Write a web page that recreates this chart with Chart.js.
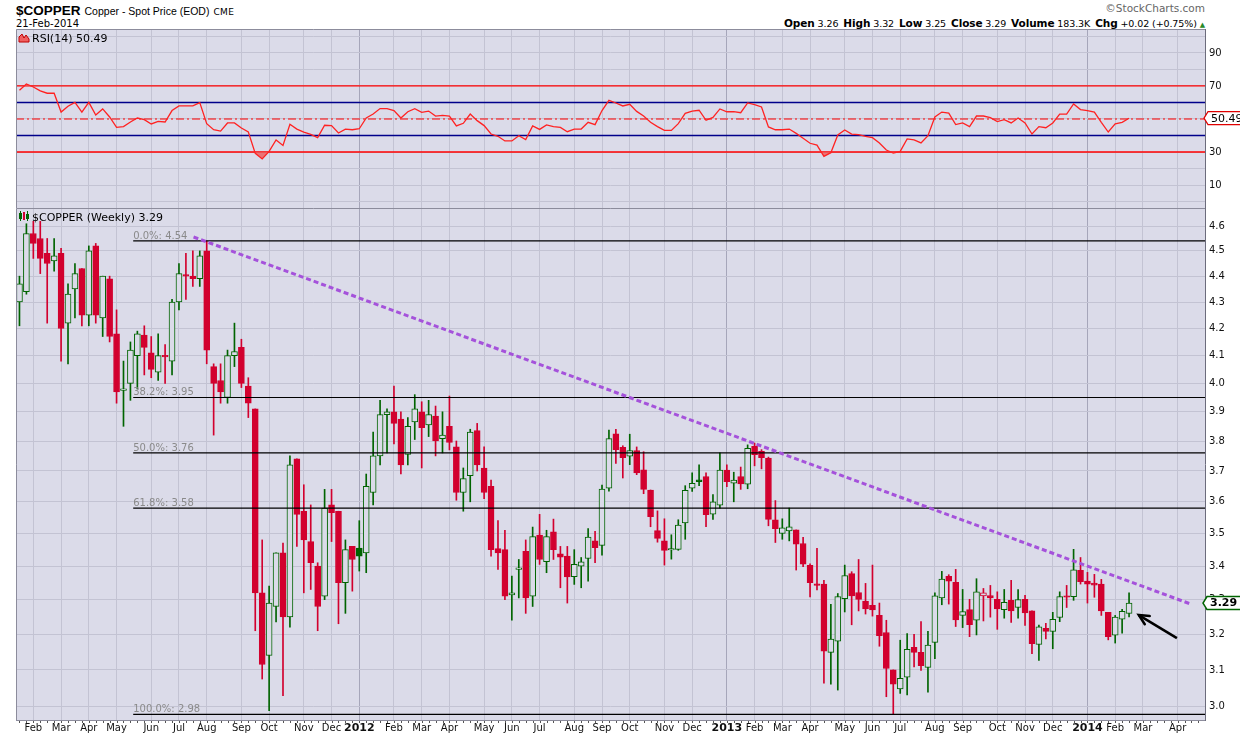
<!DOCTYPE html>
<html><head><meta charset="utf-8">
<script src="https://cdn.jsdelivr.net/npm/chart.js@4.4.1/dist/chart.umd.min.js"></script>
<style>
html,body{margin:0;padding:0;background:#fff;width:1240px;height:737px;overflow:hidden;}
#rsiWrap{position:absolute;left:0;top:0;width:1240px;height:212px;}
#priceWrap{position:absolute;left:0;top:200px;width:1240px;height:537px;}
.t{position:absolute;white-space:nowrap;color:#000;}
.hd b{font-size:10.5px;margin-left:5px;}
</style></head><body>
<div class="t" style="left:16px;top:2px;line-height:16px;">
<span style="font:bold 13.5px 'Liberation Sans',sans-serif;">$COPPER</span>
<span style="font:10.5px 'Liberation Sans',sans-serif;">Copper - Spot Price (EOD)</span>
<span style="font:9px 'DejaVu Sans',sans-serif;letter-spacing:0.4px;">CME</span></div>
<div class="t" style="left:16px;top:17px;font:10px 'DejaVu Sans',sans-serif;line-height:13px;">21-Feb-2014</div>
<div class="t" style="right:35px;top:2px;font:10.5px 'DejaVu Sans',sans-serif;color:#666;line-height:13px;">&copy;StockCharts.com</div>
<div class="t hd" style="right:35px;top:17px;font:9.5px 'DejaVu Sans',sans-serif;line-height:13px;letter-spacing:-0.1px;">
<b>Open</b> 3.26<b>High</b> 3.32<b>Low</b> 3.25<b>Close</b> 3.29<b>Volume</b> 183.3K<b>Chg</b> +0.02 (+0.75%) <span style="color:#2a8a2a;font-size:7px">&#9650;</span></div>
<div id="rsiWrap"><canvas id="rsi" width="1240" height="212"></canvas></div>
<div id="priceWrap"><canvas id="price" width="1240" height="537"></canvas></div>
<script>
// ---------------- data (weekly bars, index 0 = week of 24-Jan-2011) ----------------
const openP = [4.30,4.34,4.57,4.55,4.49,4.46,4.49,4.22,4.35,4.43,4.25,4.52,4.24,4.39,4.18,3.975,4.00,4.10,4.175,4.11,
4.04,4.10,4.08,4.30,4.405,4.40,4.39,4.50,4.06,4.01,3.95,4.10,4.13,3.99,3.91,3.32,3.14,3.28,3.44,3.25,
3.74,3.57,3.475,3.40,3.31,3.59,3.57,3.35,3.46,3.455,3.44,3.63,3.75,3.89,3.90,3.875,3.755,3.865,3.90,3.855,
3.885,3.808,3.85,3.78,3.63,3.685,3.835,3.71,3.65,3.453,3.45,3.314,3.39,3.445,3.31,3.495,3.413,3.505,3.437,3.43,
3.368,3.40,3.423,3.477,3.463,3.644,3.824,3.779,3.749,3.768,3.704,3.638,3.509,3.477,3.449,3.451,3.533,3.644,3.671,3.682,
3.561,3.589,3.703,3.66,3.682,3.657,3.782,3.765,3.743,3.543,3.50,3.508,3.511,3.469,3.402,3.346,3.346,3.149,3.18,3.303,
3.377,3.321,3.295,3.283,3.254,3.205,3.10,3.048,3.08,3.163,3.149,3.107,3.177,3.305,3.369,3.351,3.254,3.271,3.24,3.311,
3.312,3.301,3.271,3.298,3.277,3.301,3.267,3.171,3.217,3.208,3.248,3.311,3.309,3.387,3.355,3.349,3.346,3.263,3.197,3.243,
3.26];
const highP = [4.40,4.61,4.62,4.62,4.55,4.55,4.51,4.37,4.45,4.43,4.52,4.53,4.40,4.40,4.27,4.08,4.15,4.19,4.21,4.17,
4.18,4.14,4.31,4.45,4.49,4.50,4.50,4.54,4.07,4.07,4.12,4.22,4.16,4.02,3.91,3.48,3.34,3.44,3.47,3.75,
3.74,3.655,3.59,3.41,3.64,3.64,3.57,3.48,3.46,3.54,3.69,3.83,3.94,3.91,3.99,3.90,3.88,3.96,3.935,3.94,
3.92,3.90,3.955,3.80,3.71,3.84,3.86,3.78,3.67,3.54,3.51,3.37,3.42,3.48,3.52,3.56,3.51,3.545,3.46,3.46,
3.45,3.426,3.515,3.507,3.654,3.837,3.84,3.784,3.823,3.78,3.764,3.638,3.571,3.546,3.496,3.543,3.652,3.694,3.72,3.694,
3.623,3.76,3.72,3.696,3.713,3.787,3.793,3.771,3.746,3.604,3.546,3.58,3.511,3.488,3.407,3.454,3.357,3.286,3.318,3.403,
3.383,3.42,3.348,3.403,3.29,3.24,3.10,3.183,3.202,3.20,3.236,3.208,3.32,3.384,3.374,3.39,3.33,3.301,3.362,3.333,
3.342,3.323,3.33,3.357,3.33,3.313,3.267,3.226,3.231,3.263,3.323,3.342,3.451,3.426,3.381,3.375,3.36,3.263,3.254,3.272,
3.32];
const lowP = [4.21,4.33,4.47,4.41,4.22,4.42,4.08,4.07,4.24,4.21,4.21,4.22,4.17,4.15,3.93,3.85,3.94,3.98,4.03,4.02,
4.01,4.00,4.03,4.27,4.31,4.36,4.36,4.07,3.82,3.93,3.93,4.06,3.985,3.88,3.21,3.075,2.99,3.235,3.03,3.22,
3.46,3.32,3.33,3.21,3.30,3.475,3.23,3.26,3.325,3.385,3.38,3.59,3.72,3.76,3.79,3.69,3.72,3.805,3.71,3.815,
3.75,3.76,3.77,3.605,3.57,3.60,3.70,3.61,3.43,3.39,3.30,3.24,3.305,3.26,3.28,3.405,3.38,3.42,3.335,3.29,
3.345,3.335,3.355,3.41,3.433,3.634,3.725,3.677,3.721,3.688,3.626,3.521,3.473,3.403,3.421,3.448,3.482,3.633,3.652,3.521,
3.544,3.58,3.649,3.60,3.64,3.642,3.717,3.707,3.524,3.472,3.482,3.477,3.388,3.398,3.308,3.329,3.064,3.061,3.045,3.264,
3.227,3.267,3.258,3.252,3.166,3.027,2.98,3.036,3.032,3.108,3.099,3.039,3.131,3.285,3.287,3.222,3.219,3.193,3.198,3.238,
3.249,3.214,3.246,3.234,3.246,3.225,3.145,3.126,3.187,3.159,3.236,3.277,3.298,3.346,3.29,3.307,3.254,3.184,3.175,3.203,
3.25];
const closeP = [4.37,4.57,4.53,4.47,4.45,4.48,4.20,4.33,4.41,4.25,4.50,4.25,4.40,4.17,3.97,3.98,4.12,4.18,4.13,4.05,
4.10,4.095,4.30,4.41,4.40,4.39,4.48,4.12,4.00,3.97,4.10,4.115,4.00,3.93,3.32,3.115,3.29,3.44,3.25,3.72,
3.56,3.48,3.41,3.28,3.58,3.565,3.35,3.45,3.42,3.43,3.65,3.75,3.89,3.90,3.86,3.72,3.85,3.91,3.845,3.89,
3.80,3.82,3.795,3.63,3.675,3.83,3.72,3.63,3.45,3.44,3.31,3.32,3.395,3.305,3.49,3.42,3.49,3.45,3.427,3.367,
3.405,3.413,3.489,3.456,3.641,3.808,3.771,3.744,3.768,3.694,3.64,3.553,3.485,3.448,3.451,3.526,3.637,3.66,3.665,3.559,
3.60,3.703,3.665,3.67,3.658,3.775,3.754,3.744,3.544,3.515,3.518,3.521,3.467,3.406,3.35,3.342,3.152,3.186,3.309,3.371,
3.311,3.301,3.273,3.27,3.196,3.104,3.061,3.077,3.157,3.149,3.112,3.169,3.311,3.361,3.355,3.241,3.265,3.227,3.323,3.32,
3.305,3.273,3.292,3.267,3.30,3.261,3.173,3.221,3.208,3.243,3.309,3.307,3.389,3.353,3.346,3.343,3.267,3.193,3.249,3.266,
3.29];
const rsi14 = [67.4,71.2,69.4,67.0,65.6,65.6,54.2,57.7,60.1,54.2,60.1,52.4,56.1,51.2,44.9,45.4,48.2,50.6,49.6,47.0,
48.6,48.2,55.1,57.9,57.9,57.9,59.9,47.2,43.5,42.7,47.6,47.6,44.5,42.1,29.2,25.8,30.4,37.3,34.0,46.8,
43.9,42.1,40.7,38.7,46.2,46.0,41.5,43.9,43.5,44.1,50.6,53.0,56.3,56.3,55.1,50.6,54.4,56.2,54.0,54.8,
51.8,52.2,51.8,45.8,47.4,53.0,49.0,46.0,40.9,39.5,36.7,36.7,39.9,37.5,45.8,43.7,46.4,45.4,44.9,42.3,
43.9,43.9,48.0,46.6,55.1,61.3,59.7,57.9,58.9,54.6,51.8,48.0,45.4,43.1,43.1,47.2,53.4,54.8,55.3,49.2,
51.0,56.1,54.4,54.4,53.8,59.7,58.7,57.3,45.2,43.5,43.5,43.9,41.3,38.3,35.3,34.2,27.4,29.6,40.3,43.3,
40.9,40.5,39.5,38.7,35.5,31.2,29.4,30.4,37.9,37.3,35.5,39.9,51.2,54.2,53.6,46.6,47.6,45.4,51.8,51.8,
50.8,48.4,49.6,47.6,50.6,47.6,40.9,45.4,44.7,47.6,53.0,53.0,59.1,55.7,55.1,54.2,48.0,42.1,47.0,48.0,
50.49];

// x-axis: month tick positions (week index) and labels
const monthTickIdx = [2,6,10,14,19,23,27,32,36,41,45,49,54,58,62,67,71,75,80,84,88,93,97,102,106,110,114,119,123,127,132,136,141,145,149,154,158,162,167];
const monthTickLabels = ['Feb','Mar','Apr','May','Jun','Jul','Aug','Sep','Oct','Nov','Dec','2012','Feb','Mar','Apr','May','Jun','Jul','Aug','Sep','Oct','Nov','Dec','2013','Feb','Mar','Apr','May','Jun','Jul','Aug','Sep','Oct','Nov','Dec','2014','Feb','Mar','Apr'];
const yearTickIdx = [49,102,154];
const lastAxisWeek = 170;
const priceTicks = [3.0,3.1,3.2,3.3,3.4,3.5,3.6,3.7,3.8,3.9,4.0,4.1,4.2,4.3,4.4,4.5,4.6];
const rsiGridTicks = [0,10,20,30,40,50,60,70,80,90,100];
const rsiLabelTicks = [10,30,70,90];
// annotations
const fibLevels = [4.54,3.95,3.76,3.58,2.98];
const fibNames = ['0.0%','38.2%','50.0%','61.8%','100.0%'];
const fibStartWeek = 16.4;
const trendWeeks = [25.1,168.9];
const trendPrices = [4.556,3.287];
const arrowWeeks = [166.9,161.4];
const arrowPrices = [3.189,3.255];
const rsiRedLevels = [70,30];
const rsiBlueLevels = [60,40];
const rsiMidLevel = 50;

// ---------------- styling ----------------
const X_MIN = -0.5, X_MAX = 170.95;
const UP = '#006400', DN = '#D2002E', BG = '#DBDBE9', GRID = '#C3C3D3', GRIDY = '#A6A6BA';
const FONT = "'DejaVu Sans', sans-serif";
const last = closeP.length - 1;
const colorAt = i => (i === 0 || closeP[i] >= closeP[i-1]) ? UP : DN;
const hollowAt = i => closeP[i] >= openP[i];

function xAxis(show){
  return {
    type:'linear', min:X_MIN, max:X_MAX, offset:false, bounds:'data',
    afterBuildTicks: s => { s.ticks = monthTickIdx.map(v => ({value:v})); },
    afterFit: s => { s.height = show ? 17 : 0; s.paddingLeft = 0; s.paddingRight = 0; },
    grid:{ color: c => (c.tick && yearTickIdx.includes(c.tick.value)) ? GRIDY : GRID, lineWidth:1, drawTicks:false, offset:false },
    border:{ display:true, color:'#8c8c9c' },
    ticks:{ display:show, autoSkip:false, maxRotation:0, minRotation:0, padding:2, color:'#111',
      font: c => ({family:FONT, size: (c.tick && yearTickIdx.includes(c.tick.value)) ? 11 : 10,
                   weight: (c.tick && yearTickIdx.includes(c.tick.value)) ? 'bold' : 'normal'}),
      callback: (v, i) => monthTickLabels[i] }
  };
}

const bgPlugin = { id:'bgp', beforeDraw(ch){ const {ctx, chartArea:a} = ch; ctx.save(); ctx.fillStyle = BG;
  ctx.fillRect(a.left, a.top, a.right - a.left, a.bottom - a.top); ctx.restore(); } };
const framePlugin = { id:'frame', afterDraw(ch){ const {ctx, chartArea:a} = ch; ctx.save(); ctx.strokeStyle = '#8c8c9c'; ctx.lineWidth = 1;
  ctx.beginPath(); ctx.moveTo(a.left + 0.5, a.bottom); ctx.lineTo(a.left + 0.5, a.top + 0.5); ctx.lineTo(a.right, a.top + 0.5); ctx.stroke(); ctx.restore(); } };

function badge(ctx, x, y, text, color, bold, lw){
  ctx.save();
  ctx.font = (bold ? 'bold ' : '') + '11px ' + FONT;
  const w = ctx.measureText(text).width + 5, h = 13;
  ctx.beginPath();
  ctx.moveTo(x, y); ctx.lineTo(x + 4, y - h/2); ctx.lineTo(x + 6 + w, y - h/2); ctx.lineTo(x + 6 + w, y + h/2); ctx.lineTo(x + 4, y + h/2); ctx.closePath();
  ctx.fillStyle = '#fff'; ctx.fill(); ctx.strokeStyle = color; ctx.lineWidth = lw; ctx.stroke();
  ctx.fillStyle = '#000'; ctx.textBaseline = 'middle'; ctx.fillText(text, x + 7, y + 0.5);
  ctx.restore();
}

// ---------------- RSI panel ----------------
const lvl = (v) => [{x:X_MIN, y:v}, {x:X_MAX, y:v}];
const rsiPts = rsi14.map((v, i) => ({x:i, y:v}));
const rsiDatasets = [
  { data: rsiPts, borderColor:'#FF2222', borderWidth:1.3, pointRadius:0, tension:0, order:0,
    fill:{ target:{value:30}, above:'rgba(0,0,0,0)', below:'rgba(236,90,90,0.8)' } },
  { data: rsiPts, borderWidth:0, borderColor:'rgba(0,0,0,0)', pointRadius:0, order:1,
    fill:{ target:{value:70}, above:'rgba(236,90,90,0.8)', below:'rgba(0,0,0,0)' } },
  ...rsiRedLevels.map(v => ({ data: lvl(v), borderColor:'#FF0000', borderWidth:1.3, pointRadius:0, order:2 })),
  ...rsiBlueLevels.map(v => ({ data: lvl(v), borderColor:'#00008B', borderWidth:1.3, pointRadius:0, order:2 })),
  { data: lvl(rsiMidLevel), borderColor:'#FF0000', borderWidth:1.2, borderDash:[8,3,2,3], pointRadius:0, order:2 }
];
const rsiText = { id:'rsiText', afterDraw(ch){
  const {ctx, chartArea:a, scales} = ch;
  ctx.save();
  const ix = a.left + 3, iy = a.top + 13;
  ctx.beginPath(); ctx.moveTo(ix, iy); ctx.lineTo(ix, iy - 5); ctx.lineTo(ix + 3, iy - 8); ctx.lineTo(ix + 5, iy - 4);
  ctx.lineTo(ix + 7, iy - 7); ctx.lineTo(ix + 10, iy - 3); ctx.lineTo(ix + 10, iy); ctx.closePath();
  ctx.fillStyle = '#F06060'; ctx.fill(); ctx.strokeStyle = '#C00000'; ctx.lineWidth = 1; ctx.stroke();
  ctx.fillStyle = '#000'; ctx.font = '11px ' + FONT; ctx.textBaseline = 'alphabetic';
  ctx.fillText('RSI(14) ' + rsi14[last].toFixed(2), a.left + 16, a.top + 13);
  ctx.restore();
  badge(ctx, a.right - 1, scales.y.getPixelForValue(rsi14[last]), rsi14[last].toFixed(2), '#E00000', false, 1.2);
} };
new Chart(document.getElementById('rsi'), {
  type:'line',
  data:{ datasets: rsiDatasets },
  options:{
    responsive:false, animation:false, events:[],
    layout:{ padding:{ left:16, top:29, right:0, bottom:4 } },
    plugins:{ legend:{display:false}, tooltip:{enabled:false} },
    scales:{
      x: xAxis(false),
      y: { type:'linear', position:'right', min:-3.9, max:104.5, bounds:'data',
        afterBuildTicks: s => { s.ticks = rsiGridTicks.map(v => ({value:v})); },
        afterFit: s => { s.width = 35; s.paddingTop = 0; s.paddingBottom = 0; },
        grid:{ color: GRID, drawTicks:false },
        border:{ display:true, color:'#6c6c7c' },
        ticks:{ padding:4, color:'#111', font:{family:FONT, size:10},
          callback: v => rsiLabelTicks.includes(v) ? String(v) : '' } }
    }
  },
  plugins:[bgPlugin, framePlugin, rsiText]
});

// ---------------- price panel ----------------
const bodyData = openP.map((o, i) => ({x:i, y:[o, closeP[i]]}));
const wickData = lowP.map((l, i) => ({x:i, y:[l, highP[i]]}));
const priceDatasets = [
  { type:'line', data: trendWeeks.map((w, i) => ({x:w, y:trendPrices[i]})), borderColor:'#A552DB', borderWidth:3,
    borderDash:[5,3], pointRadius:0, order:-2 },
  { type:'line', data: arrowWeeks.map((w, i) => ({x:w, y:arrowPrices[i]})), borderColor:'#000', borderWidth:2.5,
    pointRadius:0, order:-3 },
  ...fibLevels.map(v => ({ type:'line', data:[{x:fibStartWeek, y:v}, {x:X_MAX, y:v}], borderColor:'#000', borderWidth:1.2,
    pointRadius:0, order:-1 })),
  { type:'bar', data: bodyData, grouped:false, barThickness:6, borderWidth:1, borderSkipped:false, minBarLength:1.5,
    backgroundColor: c => hollowAt(c.dataIndex) ? BG : colorAt(c.dataIndex),
    borderColor: c => colorAt(c.dataIndex), order:0 },
  { type:'bar', data: wickData, grouped:false, barThickness:1, borderWidth:0,
    backgroundColor: c => colorAt(c.dataIndex), order:1 }
];
const priceText = { id:'priceText', afterDraw(ch){
  const {ctx, chartArea:a, scales} = ch;
  const xs = scales.x, ys = scales.y;
  ctx.save();
  // weekly minor marks under the date axis
  ctx.fillStyle = '#555';
  for (let w = 0; w <= lastAxisWeek; w++) { ctx.fillRect(Math.round(xs.getPixelForValue(w)), a.bottom + 1, 1, 2); }
  // legend icon (mini candles)
  const ix = a.left + 3, iy = a.top + 3;
  ctx.strokeStyle = UP; ctx.lineWidth = 1;
  ctx.beginPath(); ctx.moveTo(ix + 1.5, iy); ctx.lineTo(ix + 1.5, iy + 10); ctx.stroke();
  ctx.strokeRect(ix + 0.5, iy + 2.5, 2, 5);
  ctx.fillStyle = DN; ctx.fillRect(ix + 4, iy + 1, 2, 8);
  ctx.strokeStyle = UP; ctx.beginPath(); ctx.moveTo(ix + 8.5, iy); ctx.lineTo(ix + 8.5, iy + 10); ctx.stroke();
  ctx.strokeRect(ix + 7.5, iy + 3.5, 2, 4);
  ctx.fillStyle = '#000'; ctx.font = '11px ' + FONT; ctx.textBaseline = 'alphabetic';
  ctx.fillText('$COPPER (Weekly) ' + closeP[last].toFixed(2), a.left + 16, a.top + 13);
  // fib labels
  ctx.fillStyle = '#8a8a8a'; ctx.font = '10px ' + FONT;
  fibLevels.forEach((v, k) => {
    ctx.fillText(fibNames[k] + ': ' + v.toFixed(2), xs.getPixelForValue(fibStartWeek), ys.getPixelForValue(v) - 2);
  });
  // arrow head
  const meta = ch.getDatasetMeta(1);
  const p0 = meta.data[0], p1 = meta.data[1];
  const ang = Math.atan2(p1.y - p0.y, p1.x - p0.x);
  ctx.strokeStyle = '#000'; ctx.lineWidth = 2.5; ctx.lineCap = 'round';
  ctx.beginPath();
  ctx.moveTo(p1.x - 11 * Math.cos(ang - 0.45), p1.y - 11 * Math.sin(ang - 0.45));
  ctx.lineTo(p1.x, p1.y);
  ctx.lineTo(p1.x - 11 * Math.cos(ang + 0.45), p1.y - 11 * Math.sin(ang + 0.45));
  ctx.stroke();
  ctx.restore();
  badge(ctx, a.right - 2, ys.getPixelForValue(closeP[last]), closeP[last].toFixed(2), '#006400', true, 1.6);
} };
new Chart(document.getElementById('price'), {
  type:'bar',
  data:{ datasets: priceDatasets },
  options:{
    responsive:false, animation:false, events:[],
    layout:{ padding:{ left:16, top:8, right:0, bottom:0 } },
    plugins:{ legend:{display:false}, tooltip:{enabled:false} },
    scales:{
      x: xAxis(true),
      y: { type:'logarithmic', position:'right', min:2.965, max:4.675, bounds:'data',
        afterBuildTicks: s => { s.ticks = priceTicks.map(v => ({value:v})); },
        afterFit: s => { s.width = 35; s.paddingTop = 0; s.paddingBottom = 0; },
        grid:{ color: GRID, drawTicks:false },
        border:{ display:true, color:'#6c6c7c' },
        ticks:{ padding:4, color:'#111', font:{family:FONT, size:10}, callback: v => Number(v).toFixed(1) } }
    }
  },
  plugins:[bgPlugin, framePlugin, priceText]
});
</script>
</body></html>
